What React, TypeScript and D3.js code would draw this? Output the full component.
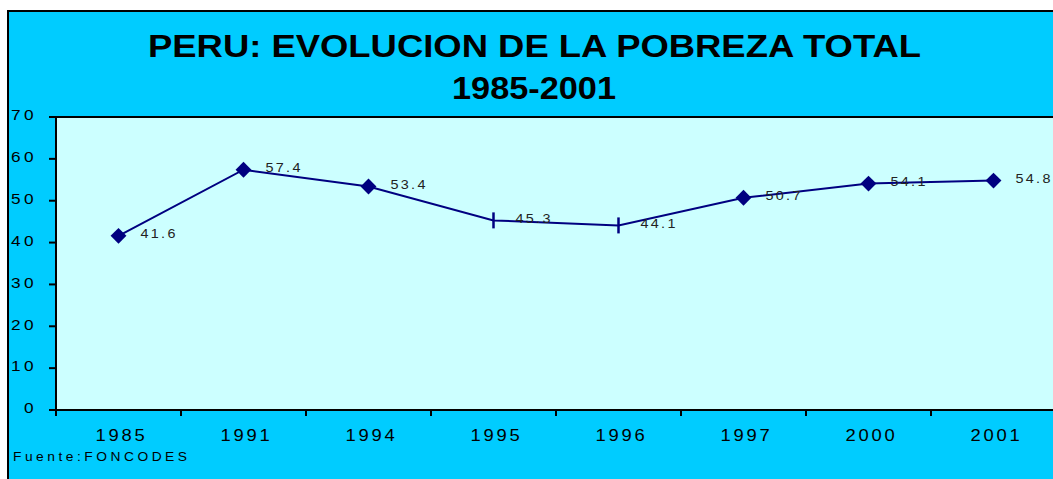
import * as React from 'react';
import * as d3 from 'd3';

const years = ['1985', '1991', '1994', '1995', '1996', '1997', '2000', '2001'];
const poverty = [41.6, 57.4, 53.4, 45.3, 44.1, 50.7, 54.1, 54.8];
// points drawn as a short vertical dash instead of a diamond
const dashYears = ['1995', '1996'];
const yTicks = [0, 10, 20, 30, 40, 50, 60, 70];

const W = 1053, H = 479;
const plot = { left: 56, top: 117, right: 1056, bottom: 410 };
// the original export is stretched horizontally
const SX = 1.15;

type STextProps = {
  x: number; y: number; anchor?: 'start' | 'middle' | 'end';
  size: number; spacing?: number; bold?: boolean; fill?: string; dy?: string;
  children: React.ReactNode;
};

function SText({ x, y, anchor = 'start', size, spacing = 0, bold, fill = '#000', dy, children }: STextProps) {
  return (
    <g transform={`translate(${x},${y}) scale(${SX},1)`}>
      <text textAnchor={anchor} fontSize={size} letterSpacing={spacing} dy={dy}
        fontWeight={bold ? 'bold' : 'normal'} fill={fill}>{children}</text>
    </g>
  );
}

export default function App() {
  const x = d3.scaleBand<string>()
    .domain(years)
    .range([plot.left, plot.right]);

  const y = d3.scaleLinear()
    .domain([0, 70])
    .range([plot.bottom, plot.top]);

  const cx = (yr: string) => (x(yr) as number) + x.bandwidth() / 2;

  const line = d3.line<number>()
    .x((_, i) => cx(years[i]))
    .y(d => y(d));

  const diamond = d3.symbol().type(d3.symbolDiamond2).size(160)();

  const font = 'Arial, "Liberation Sans", Helvetica, sans-serif';

  return (
    <svg width={W} height={H} style={{ position: 'absolute', left: 0, top: 0 }}
      fontFamily={font}>
      <rect x={0} y={0} width={W} height={H} fill="#fff" />
      <rect x={8} y={11} width={W + 10} height={H + 10} fill="#00CCFF"
        stroke="#000" strokeWidth={2} />

      <text x={534.5} y={57} textAnchor="middle" fontSize={31.5} fontWeight="bold"
        textLength={773} lengthAdjust="spacingAndGlyphs">
        PERU: EVOLUCION DE LA POBREZA TOTAL
      </text>
      <text x={534} y={99} textAnchor="middle" fontSize={31} fontWeight="bold"
        textLength={164} lengthAdjust="spacingAndGlyphs">
        1985-2001
      </text>

      <rect x={plot.left} y={plot.top} width={plot.right - plot.left}
        height={plot.bottom - plot.top} fill="#CCFFFF" />
      <line x1={plot.left} x2={plot.right} y1={plot.top} y2={plot.top}
        stroke="#000" strokeWidth={2} />
      <line x1={plot.left} x2={plot.left} y1={plot.top} y2={plot.bottom}
        stroke="#000" strokeWidth={2} />
      <line x1={plot.left} x2={plot.right} y1={plot.bottom} y2={plot.bottom}
        stroke="#000" strokeWidth={2} />

      {yTicks.map(t => (
        <g key={t}>
          <line x1={plot.left - 7} x2={plot.left} y1={y(t)} y2={y(t)}
            stroke="#000" strokeWidth={2} />
          <SText x={37} y={y(t) - 2} dy="0.35em" anchor="end" size={15}
            spacing={3}>{t}</SText>
        </g>
      ))}

      {years.map(yr => (
        <g key={yr}>
          <line x1={x(yr) as number} x2={x(yr) as number} y1={plot.bottom}
            y2={plot.bottom + 6} stroke="#000" strokeWidth={2} />
          <SText x={cx(yr) + 3} y={441} anchor="middle" size={16}
            spacing={2.4}>{yr}</SText>
        </g>
      ))}

      <path d={line(poverty) || ''} fill="none" stroke="#000080" strokeWidth={2} />

      {poverty.map((v, i) => {
        const yr = years[i];
        const px = cx(yr), py = y(v);
        return (
          <g key={yr}>
            {dashYears.includes(yr)
              ? <line x1={px} x2={px} y1={py - 8} y2={py + 8} stroke="#000080" strokeWidth={2.5} />
              : <path d={diamond || ''} transform={`translate(${px},${py})`} fill="#000080" />}
            <SText x={px + 22} y={py} dy="0.2em" size={12.5} spacing={2}
              fill="#222">{v.toFixed(1)}</SText>
          </g>
        );
      })}

      <SText x={13} y={461} size={12} spacing={3.05}>Fuente:FONCODES</SText>
    </svg>
  );
}
